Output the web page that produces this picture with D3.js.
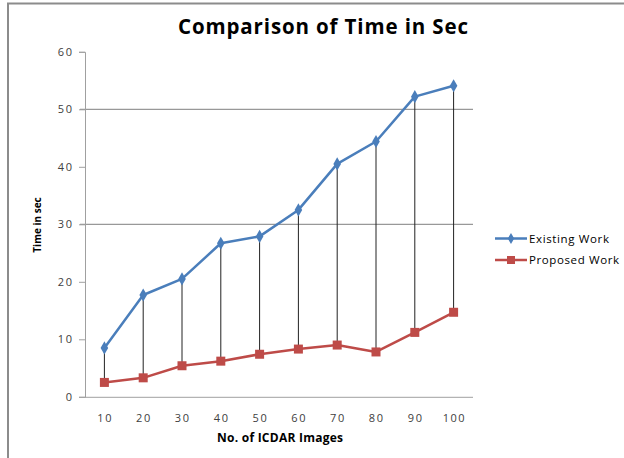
<!DOCTYPE html>
<html>
<head>
<meta charset="utf-8">
<script src="https://cdn.jsdelivr.net/npm/d3@7"></script>
<style>
  html, body { margin: 0; padding: 0; background: #fff; }
  svg { display: block; }
</style>
</head>
<body>
<script>
const categories = ["10", "20", "30", "40", "50", "60", "70", "80", "90", "100"];
const existingWork = [8.5, 17.7, 20.5, 26.7, 27.9, 32.5, 40.5, 44.4, 52.2, 54.1];
const proposedWork = [2.5, 3.3, 5.4, 6.2, 7.4, 8.3, 9.0, 7.8, 11.2, 14.7];
const yTicks = [0, 10, 20, 30, 40, 50, 60];
const gridValues = [30, 50];
const seriesNames = ["Existing Work", "Proposed Work"];

const W = 624, H = 458;
const font = "'Open Sans', 'Liberation Sans', Arial, sans-serif";
const svg = d3.select("body").append("svg").attr("width", W).attr("height", H);

// outer border (cropped at right/bottom)
svg.append("path").attr("d", "M8,460 L8,3.5 L626,3.5")
  .attr("fill", "none").attr("stroke", "#8c8c8c").attr("stroke-width", 2);

const plot = { left: 85, right: 473, top: 51.8, bottom: 396.8 };
const x = d3.scaleBand().domain(categories).range([plot.left, plot.right]);
const y = d3.scaleLinear().domain([0, 60]).range([plot.bottom, plot.top]);
const cx = c => x(c) + x.bandwidth() / 2;

// title
svg.append("text").attr("x", 323).attr("y", 34).attr("text-anchor", "middle")
  .attr("font-family", font).attr("font-weight", "bold").attr("font-size", 20.5)
  .attr("textLength", 290).attr("lengthAdjust", "spacing")
  .attr("fill", "#000").text("Comparison of Time in Sec");

// gridlines
svg.append("g").selectAll("line").data(gridValues).join("line")
  .attr("x1", plot.left - 5).attr("x2", plot.right)
  .attr("y1", d => y(d)).attr("y2", d => y(d))
  .attr("stroke", "#7f7f7f").attr("stroke-width", 1);

// y axis
const yAxis = svg.append("g").attr("transform", `translate(${plot.left},0)`)
  .call(d3.axisLeft(y).tickValues(yTicks).tickSize(6).tickPadding(7));
yAxis.select(".domain").attr("stroke", "#a0a0a0");
yAxis.selectAll(".tick line").attr("stroke", "#a0a0a0");
yAxis.selectAll("text").attr("font-family", font).attr("font-size", 11)
  .attr("textLength", d => String(d).length * 7.4 - 0.5).attr("lengthAdjust", "spacing")
  .attr("fill", "#404040");

// x axis
const xAxis = svg.append("g").attr("transform", `translate(0,${plot.bottom})`)
  .call(d3.axisBottom(x).tickSize(0).tickPadding(17));
xAxis.select(".domain").attr("stroke", "#a0a0a0").attr("d", `M${plot.left},0.5H${plot.right}`);
xAxis.selectAll("text").attr("font-family", font).attr("font-size", 11)
  .attr("textLength", d => d.length * 7.4 - 0.5).attr("lengthAdjust", "spacing")
  .attr("fill", "#404040");

// axis titles
svg.append("text").attr("x", 280).attr("y", 442).attr("text-anchor", "middle")
  .attr("font-family", font).attr("font-weight", "bold").attr("font-size", 12)
  .attr("textLength", 126).attr("lengthAdjust", "spacing")
  .attr("fill", "#000").text("No. of ICDAR Images");
svg.append("text").attr("transform", "translate(41,225) rotate(-90)")
  .attr("text-anchor", "middle").attr("font-family", font).attr("font-weight", "bold")
  .attr("font-size", 10)
  .attr("fill", "#000").text("Time in sec");

// high-low drop lines
svg.append("g").selectAll("line").data(categories).join("line")
  .attr("x1", c => cx(c)).attr("x2", c => cx(c))
  .attr("y1", (c, i) => y(existingWork[i])).attr("y2", (c, i) => y(proposedWork[i]))
  .attr("stroke", "#222").attr("stroke-width", 1);

const blue = "#4a7ebb", red = "#be4b48";
const line = d3.line().x((d, i) => cx(categories[i])).y(d => y(d));

svg.append("path").datum(existingWork).attr("d", line)
  .attr("fill", "none").attr("stroke", blue).attr("stroke-width", 2.5).attr("stroke-linejoin", "round");
svg.append("path").datum(proposedWork).attr("d", line)
  .attr("fill", "none").attr("stroke", red).attr("stroke-width", 2.5).attr("stroke-linejoin", "round");

const diamond = d3.symbol().type(d3.symbolDiamond).size(50);
svg.append("g").selectAll("path").data(existingWork).join("path")
  .attr("d", diamond).attr("transform", (d, i) => `translate(${cx(categories[i])},${y(d)})`)
  .attr("fill", blue);
svg.append("g").selectAll("rect").data(proposedWork).join("rect")
  .attr("x", (d, i) => cx(categories[i]) - 4.5).attr("y", d => y(d) - 4.5)
  .attr("width", 9).attr("height", 9).attr("fill", red);

// legend
const legendWidths = [80, 90];
const lg = svg.append("g").attr("transform", "translate(495,238.5)");
seriesNames.forEach((name, i) => {
  const g = lg.append("g").attr("transform", `translate(0,${i * 21.5})`);
  const col = i === 0 ? blue : red;
  g.append("line").attr("x1", 0).attr("x2", 32).attr("y1", 0).attr("y2", 0)
    .attr("stroke", col).attr("stroke-width", 2.5);
  if (i === 0) {
    g.append("path").attr("d", d3.symbol().type(d3.symbolDiamond).size(36)).attr("transform", "translate(16,0)").attr("fill", col);
  } else {
    g.append("rect").attr("x", 12).attr("y", -4).attr("width", 8).attr("height", 8).attr("fill", col);
  }
  g.append("text").attr("x", 34).attr("y", 4).attr("font-family", font).attr("font-size", 11.5)
    .attr("textLength", legendWidths[i]).attr("lengthAdjust", "spacing")
    .attr("fill", "#000").text(name);
});
</script>
</body>
</html>
